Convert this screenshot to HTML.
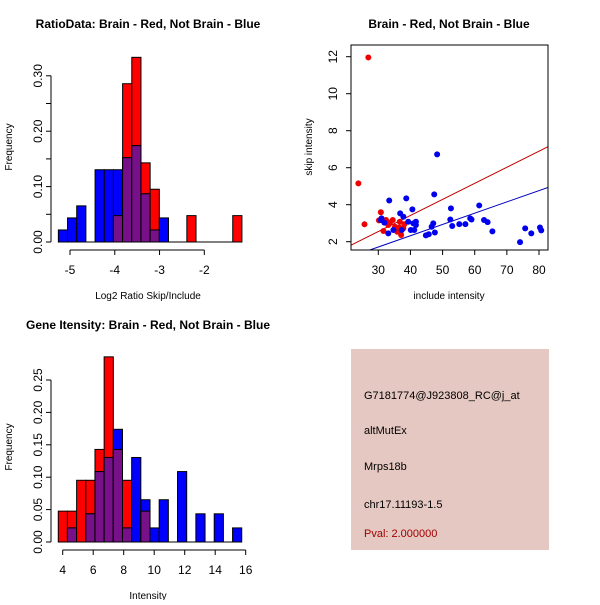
<!DOCTYPE html>
<html><head><meta charset="utf-8"><style>
html,body{margin:0;padding:0;background:#fff}
svg text{font-family:"Liberation Sans",sans-serif}
</style></head><body>
<svg id="s" width="600" height="600" xmlns="http://www.w3.org/2000/svg">
<rect width="600" height="600" fill="#fff"/>
<text x="148" y="28" font-size="12" font-weight="bold" text-anchor="middle">RatioData: Brain - Red, Not Brain - Blue</text>
<text x="449" y="28" font-size="12" font-weight="bold" text-anchor="middle">Brain - Red, Not Brain - Blue</text>
<text x="148" y="329" font-size="12" font-weight="bold" text-anchor="middle">Gene Itensity: Brain - Red, Not Brain - Blue</text>
<g id="p1"></g>
<g id="p2"></g>
<g id="p3"></g>
<g>
<rect x="351" y="349" width="198" height="201" fill="#e5c8c2"/>
<text x="364" y="399" font-size="11">G7181774@J923808_RC@j_at</text>
<text x="364" y="434" font-size="11">altMutEx</text>
<text x="364" y="470" font-size="11">Mrps18b</text>
<text x="364" y="508" font-size="11">chr17.11193-1.5</text>
<text x="364" y="537" font-size="11" fill="#a00000">Pval: 2.000000</text>
</g>
</svg>
<script>
// Ratio histogram data
const ratioBinStart = -5.26, ratioBinWidth = 0.205;
const ratioBlueCounts = [1,2,3,0,6,6,6,7,8,4,1,2,0,0,0,0,0,0,0,0];
const ratioRedCounts  = [0,0,0,0,0,0,1,6,7,3,2,0,0,0,1,0,0,0,0,1];
const ratioBlueTotal = 46, ratioRedTotal = 21;
const ratioXTicks = [-5,-4,-3,-2];
const ratioYTicks = [0,0.10,0.20,0.30];
// Intensity histogram data
const intBinStart = 3.71, intBinWidth = 0.6015;
const intBlueCounts = [0,1,0,2,5,6,8,1,6,3,1,3,0,5,0,2,0,2,0,1];
const intRedCounts  = [1,1,2,2,3,6,3,2,0,1,0,0,0,0,0,0,0,0,0,0];
const intBlueTotal = 46, intRedTotal = 21;
const intXTicks = [4,6,8,10,12,14,16];
const intYTicks = [0,0.05,0.10,0.15,0.20,0.25];
// Scatter data
const redX = [26.9,23.8,25.7,30.8,30.2,31.6,32.4,33.6,34.5,35.2,35.9,36.5,37.1,37.8,38.1,36.7,33.1];
const redY = [11.96,5.15,2.94,3.59,3.15,2.58,3.17,3.03,3.17,2.81,2.54,2.77,2.36,2.72,2.94,3.08,2.9];
const blueX = [33.4,38.7,48.3,47.4,40.6,36.8,31.0,31.9,33.1,34.7,37.3,37.8,39.3,40.1,40.9,41.7,41.7,41.2,44.8,45.7,46.6,47.1,47.6,52.6,52.4,53.0,55.2,57.1,58.6,59.0,61.4,62.9,64.0,65.5,74.1,75.7,77.6,80.3,80.7,30.8];
const blueY = [4.23,4.34,6.72,4.56,3.75,3.53,3.26,3.03,2.45,2.63,2.63,3.35,3.08,2.63,2.99,3.08,2.9,2.63,2.34,2.4,2.81,2.99,2.5,3.8,3.2,2.85,2.95,2.95,3.26,3.2,3.96,3.17,3.06,2.56,1.98,2.72,2.45,2.77,2.61,3.17];
const redFit = [-0.06, 0.0869];   // intercept, slope
const blueFit = [-0.117, 0.061];
const scatterXTicks = [30,40,50,60,70,80];
const scatterYTicks = [2,4,6,8,10,12];

const NS="http://www.w3.org/2000/svg";
function mk(parent,tag,attrs,txt){const e=document.createElementNS(NS,tag);for(const k in attrs)e.setAttribute(k,attrs[k]);if(txt!==undefined)e.textContent=txt;parent.appendChild(e);return e;}

function hist(g,o){
  const sx=v=>o.x0+(v-o.xv0)*o.xs, sy=v=>o.y0-v*o.ys;
  for(let i=0;i<o.red.length;i++){
    const a=o.start+i*o.w,b=a+o.w;
    const r=o.red[i]/o.rt, bl=o.blue[i]/o.bt, m=Math.min(r,bl);
    const x=sx(a), wd=sx(b)-sx(a);
    if(r>0){const e=mk(g,'rect',{x:x,y:sy(r),width:wd,height:sy(0)-sy(r),fill:'#ff0000',stroke:'#000','stroke-width':1});
      
      }
    if(bl>0){const e=mk(g,'rect',{x:x,y:sy(bl),width:wd,height:sy(0)-sy(bl),fill:'#0000ff',stroke:'#000','stroke-width':1});
      
      }
    if(m>0){const e=mk(g,'rect',{x:x,y:sy(m),width:wd,height:sy(0)-sy(m),fill:'#78108a',stroke:'#000','stroke-width':1});
      
      }
  }
  const endx=sx(o.start+o.red.length*o.w);
  mk(g,'line',{x1:sx(o.start),y1:sy(0),x2:endx,y2:sy(0),stroke:'#000'});
  const ay=o.y0+8;
  mk(g,'line',{x1:sx(o.xt[0]),y1:ay,x2:sx(o.xt[o.xt.length-1]),y2:ay,stroke:'#000'});
  o.xt.forEach(t=>{mk(g,'line',{x1:sx(t),y1:ay,x2:sx(t),y2:ay+5,stroke:'#000'});
    const e=mk(g,'text',{x:sx(t),y:ay+24,'font-size':12,'text-anchor':'middle'},String(t));
    
    });
  const ax=51;
  mk(g,'line',{x1:ax,y1:sy(o.ymin),x2:ax,y2:sy(o.ymax),stroke:'#000'});
  for(let v=0;v<=o.ymax+1e-9;v+=0.05) mk(g,'line',{x1:ax-5,y1:sy(v),x2:ax,y2:sy(v),stroke:'#000'});
  o.yt.forEach(t=>{const y=sy(t);
    const e=mk(g,'text',{x:42,y:y,'font-size':12,'text-anchor':'middle',transform:`rotate(-90 42 ${y})`},t.toFixed(2));
    
    });
  const t1=mk(g,'text',{x:12,y:o.ylc,'font-size':10,'text-anchor':'middle',transform:`rotate(-90 12 ${o.ylc})`},'Frequency');
  
  
  const t2=mk(g,'text',{x:o.xlc,y:o.xly,'font-size':10,'text-anchor':'middle'},o.xl);
  
  
}
hist(document.getElementById('p1'),{x0:70,xv0:-5,xs:44.77,y0:242,ys:554,start:ratioBinStart,w:ratioBinWidth,
  red:ratioRedCounts,blue:ratioBlueCounts,rt:ratioRedTotal,bt:ratioBlueTotal,xt:ratioXTicks,yt:ratioYTicks,ymin:0,ymax:0.30,
  ylc:147,xlc:148,xly:299,xl:'Log2 Ratio Skip/Include'});
hist(document.getElementById('p3'),{x0:62.7,xv0:4,xs:15.25,y0:542,ys:648,start:intBinStart,w:intBinWidth,
  red:intRedCounts,blue:intBlueCounts,rt:intRedTotal,bt:intBlueTotal,xt:intXTicks,yt:intYTicks,ymin:0,ymax:0.25,
  ylc:447,xlc:148,xly:599,xl:'Intensity'});

(function(){
  const g=document.getElementById('p2');
  const L=351,R=548,T=45,B=250;
  const sx=v=>378.3+(v-30)*3.214, sy=v=>241.7-(v-2)*18.5;
  const xmin=(L-378.3)/3.214+30, xmax=(R-378.3)/3.214+30;
  const defs=mk(g,'clipPath',{id:'clip'});mk(defs,'rect',{x:L,y:T,width:R-L,height:B-T});
  const cg=mk(g,'g',{'clip-path':'url(#clip)'});
  [[redFit,'#c00000','red-fit-line'],[blueFit,'#0000c0','blue-fit-line']].forEach(([f,c,n])=>{
    const e=mk(cg,'line',{x1:sx(xmin),y1:sy(f[0]+f[1]*xmin),x2:sx(xmax),y2:sy(f[0]+f[1]*xmax),stroke:c,'stroke-width':1});
    
    });
  redX.forEach((x,i)=>{const e=mk(cg,'circle',{cx:sx(x),cy:sy(redY[i]),r:3,fill:'#ee0000'});
    
    });
  blueX.forEach((x,i)=>{const e=mk(cg,'circle',{cx:sx(x),cy:sy(blueY[i]),r:3,fill:'#0000ee'});
    
    });
  mk(g,'rect',{x:L,y:T,width:R-L,height:B-T,fill:'none',stroke:'#000'});
  scatterXTicks.forEach(t=>{mk(g,'line',{x1:sx(t),y1:B,x2:sx(t),y2:B+5,stroke:'#000'});
    const e=mk(g,'text',{x:sx(t),y:B+24,'font-size':12,'text-anchor':'middle'},String(t));
    
    });
  scatterYTicks.forEach(t=>{const y=sy(t);mk(g,'line',{x1:L-5,y1:y,x2:L,y2:y,stroke:'#000'});
    const e=mk(g,'text',{x:337,y:y,'font-size':12,'text-anchor':'middle',transform:`rotate(-90 337 ${y})`},String(t));
    
    });
  const a=mk(g,'text',{x:312,y:147,'font-size':10,'text-anchor':'middle',transform:'rotate(-90 312 147)'},'skip intensity');
  
  
  const b=mk(g,'text',{x:449,y:299,'font-size':10,'text-anchor':'middle'},'include intensity');
  
  
})();
</script>
</body></html>
